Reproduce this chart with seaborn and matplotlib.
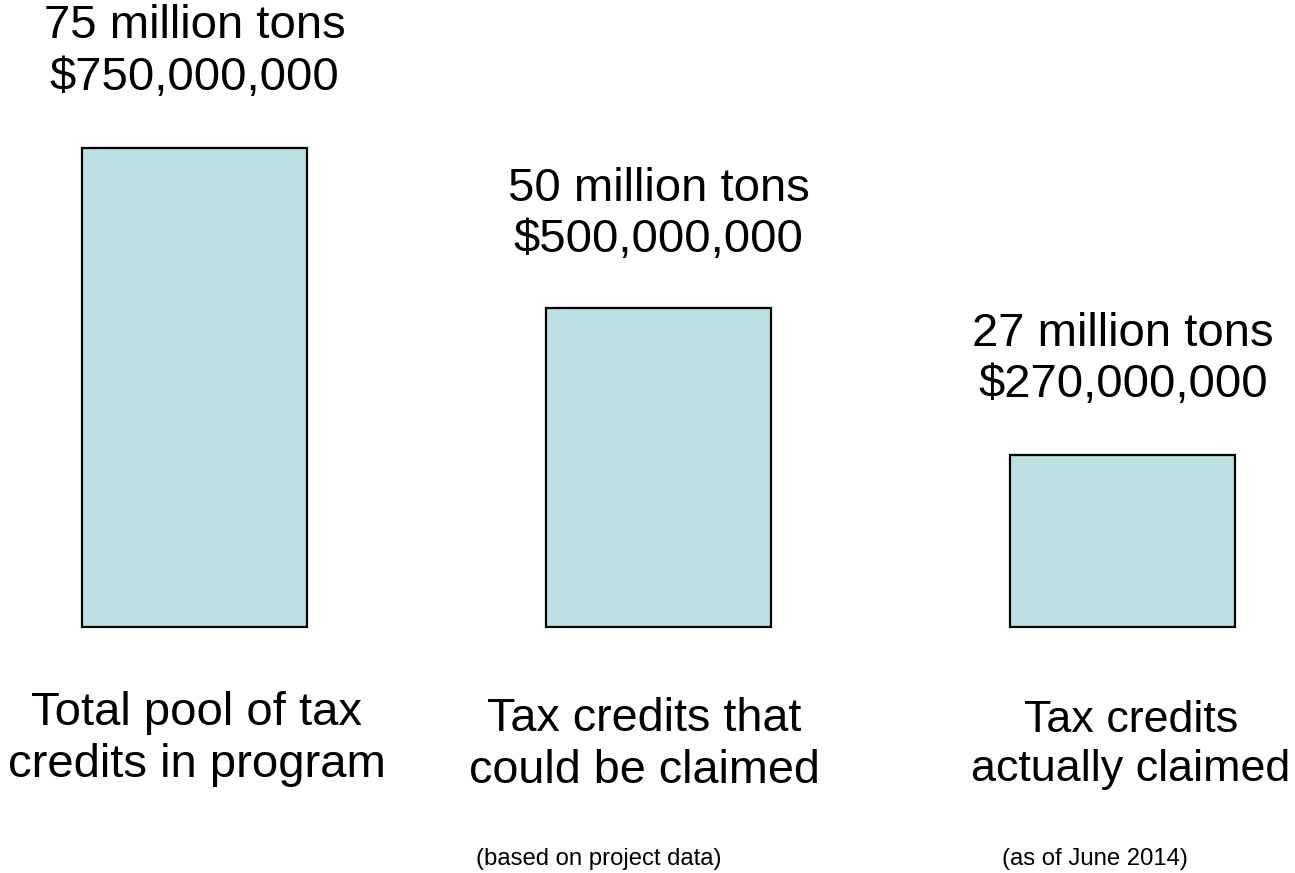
import matplotlib
matplotlib.use("Agg")
import matplotlib.pyplot as plt
import matplotlib.transforms as mtransforms
import seaborn as sns
import pandas as pd

categories = ["Total pool of tax\ncredits in program",
              "Tax credits that\ncould be claimed",
              "Tax credits\nactually claimed"]
tons_million = [75, 50, 27]
dollar_labels = ["$750,000,000", "$500,000,000", "$270,000,000"]
notes = ["", "(based on project data)", "(as of June 2014)"]

# per-label text styling (sizes in pt, nudges in px)
cat_sizes = [34, 33.7, 32.3]
cat_dx = [2, -14, 8]
cat_dy = [-3, 3, 3]
top_dy = [0, -3, -1]
note_dx = [0, -60, -28]

sns.set_theme(style="white")
plt.rcParams['font.family'] = ['Liberation Sans', 'DejaVu Sans']

df = pd.DataFrame({"cat": categories, "tons": tons_million})

fig = plt.figure(figsize=(12.95, 8.73), dpi=100)
ax = fig.add_axes([0, 0, 1, 1])
sns.barplot(data=df, x="cat", y="tons", color="#BBE0E3", saturation=1,
            edgecolor="black", linewidth=1.6, width=0.485, ax=ax)

ax.set_xlim(-0.419, 2.371)
ax.set_ylim(-38.52, 98.17)
ax.axis("off")

px = 0.72  # points per pixel at 100 dpi
trans = mtransforms.blended_transform_factory(ax.transData, ax.transAxes)
for i, (t, d, c, n) in enumerate(zip(tons_million, dollar_labels, categories, notes)):
    ax.annotate(f"{t} million tons\n{d}", xy=(i, t),
                xytext=(0, (96 + top_dy[i]) * px),
                textcoords="offset points", ha="center", va="center",
                fontsize=34, linespacing=1.22, color="black")
    ax.annotate(c, xy=(i, 1 - 742 / 873), xycoords=trans,
                xytext=(cat_dx[i] * px, -cat_dy[i] * px), textcoords="offset points",
                ha="center", va="center",
                fontsize=cat_sizes[i], linespacing=1.22, color="black")
    if n:
        ax.annotate(n, xy=(i, 1 - 859 / 873), xycoords=trans,
                    xytext=(note_dx[i] * px, 0), textcoords="offset points",
                    ha="center", va="center", fontsize=17.2, color="black")

fig.savefig("out.png", dpi=100)
